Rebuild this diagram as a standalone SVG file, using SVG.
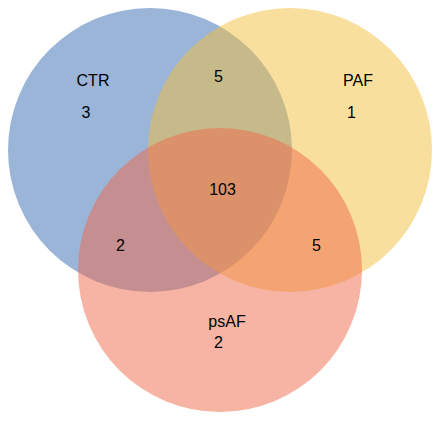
<svg xmlns="http://www.w3.org/2000/svg" width="432" height="421" viewBox="0 0 432 421">
<style>
.set{fill-opacity:0.5;stroke:none}
text{font-family:"Liberation Sans",Arial,sans-serif;font-size:16px;fill:#000;text-anchor:middle}
</style>
<rect width="432" height="421" fill="#fff"/>
<g id="CTR"><circle class="set" cx="150" cy="150" r="142" fill="#356bb1"/></g>
<g id="PAF"><circle class="set" cx="290" cy="150" r="142" fill="#f3bf3b"/></g>
<g id="psAF"><circle class="set" cx="220" cy="270" r="142" fill="#ef6949"/></g>
<g id="labels">
<text x="93" y="86">CTR</text>
<text x="86" y="117.5">3</text>
<text x="218.5" y="82">5</text>
<text x="358" y="86">PAF</text>
<text x="351.5" y="117.5">1</text>
<text x="222.5" y="195">103</text>
<text x="120.5" y="251">2</text>
<text x="316.5" y="251">5</text>
<text x="227" y="327">psAF</text>
<text x="218.5" y="348">2</text>
</g>
</svg>
